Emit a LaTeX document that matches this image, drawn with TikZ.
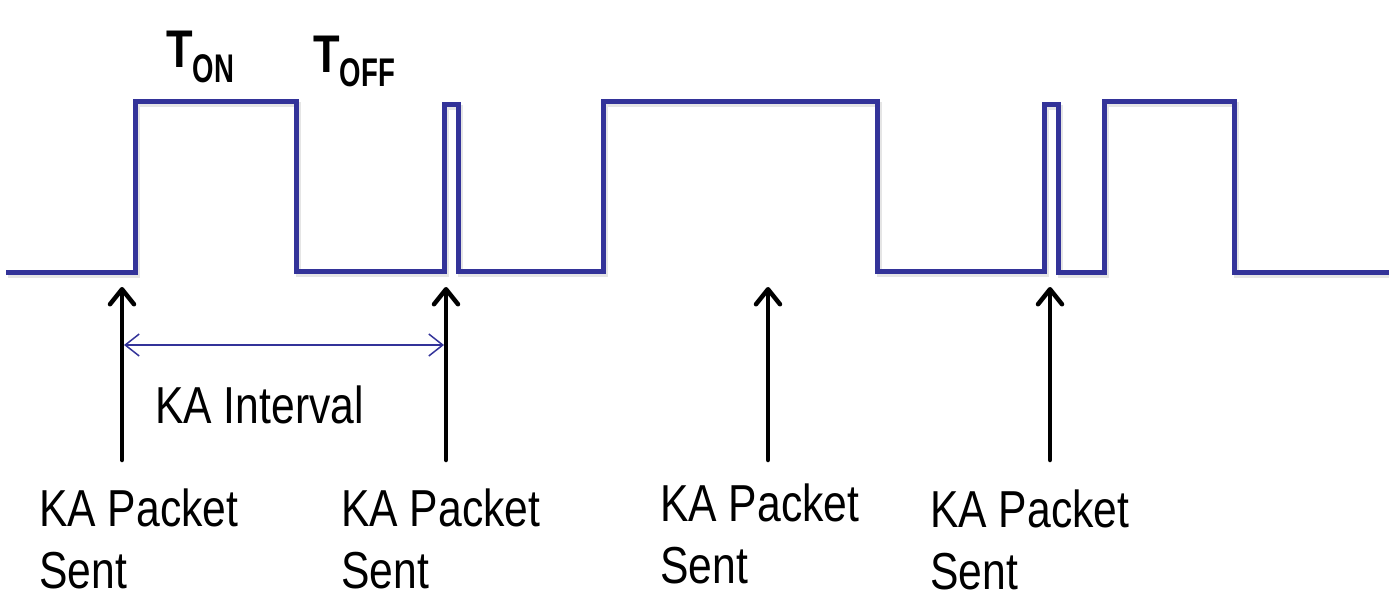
\documentclass[tikz,border=0pt]{standalone}
\usepackage{graphicx}
\usepackage{fontspec}
\setmainfont{Liberation Sans}[FakeStretch=0.82]
\usetikzlibrary{arrows.meta}
\definecolor{wave}{HTML}{333399}
\newcommand{\subtag}[1]{\scalebox{0.84}[1]{\fontsize{40}{40}\selectfont #1}}
\begin{document}
\begin{tikzpicture}[x=1pt,y=-1pt,
  signal/.style={draw=wave,line width=5pt,line join=miter},
  haze/.style={draw=black!10,line width=5pt,transform canvas={shift={(2,3)}}},
  marker/.style={line width=4.5pt,line cap=round,
    -{Straight Barb[length=15pt,width=24pt,line cap=round,line join=round]}},
  span/.style={draw=wave,line width=1.5pt,
    {Straight Barb[length=14pt,width=22pt]}-{Straight Barb[length=14pt,width=22pt]}},
  caption/.style={font=\fontsize{52}{62}\selectfont,align=left,anchor=north west,inner sep=0pt},
  period/.style={anchor=base west,inner sep=0pt,font=\bfseries\fontsize{53}{53}\selectfont},
]
\useasboundingbox (0,0) rectangle (1389,603);

% keep-alive signal
\def\wave{(6,272) -| (135,101) -| (296,271) -| (444,104) -| (458,271)
  -| (603,101) -| (877,271) -| (1044,104) -| (1058,272) -| (1104,101)
  -| (1234,272) -- (1389,272)}
\draw[haze] \wave;
\draw[signal] \wave;

% on / off period labels
\node[period] (ton) at (166,67) {T\raisebox{-15pt}{\subtag{ON}}};
\node[period] (toff) at (313,72) {T\raisebox{-14pt}{\subtag{OFF}}};

% packet markers
\foreach \n/\x in {a/122,b/446,c/768,d/1050}{
  \coordinate (\n0) at (\x,460);
  \coordinate (\n1) at (\x,287);
  \draw[marker] (\n0) -- (\n1);
}

% keep-alive interval
\coordinate (ia) at (124,345);
\coordinate (ib) at (444,345);
\draw[span] (ia) -- (ib);
\node[font=\fontsize{52}{62}\selectfont,anchor=base west,inner sep=0pt] (ival) at (155,423) {KA Interval};

% captions
\node[caption] (la) at (39,489) {KA Packet\\Sent};
\node[caption] (lb) at (341,489) {KA Packet\\Sent};
\node[caption] (lc) at (660,484) {KA Packet\\Sent};
\node[caption] (ld) at (930,490) {KA Packet\\Sent};
\end{tikzpicture}
\end{document}
